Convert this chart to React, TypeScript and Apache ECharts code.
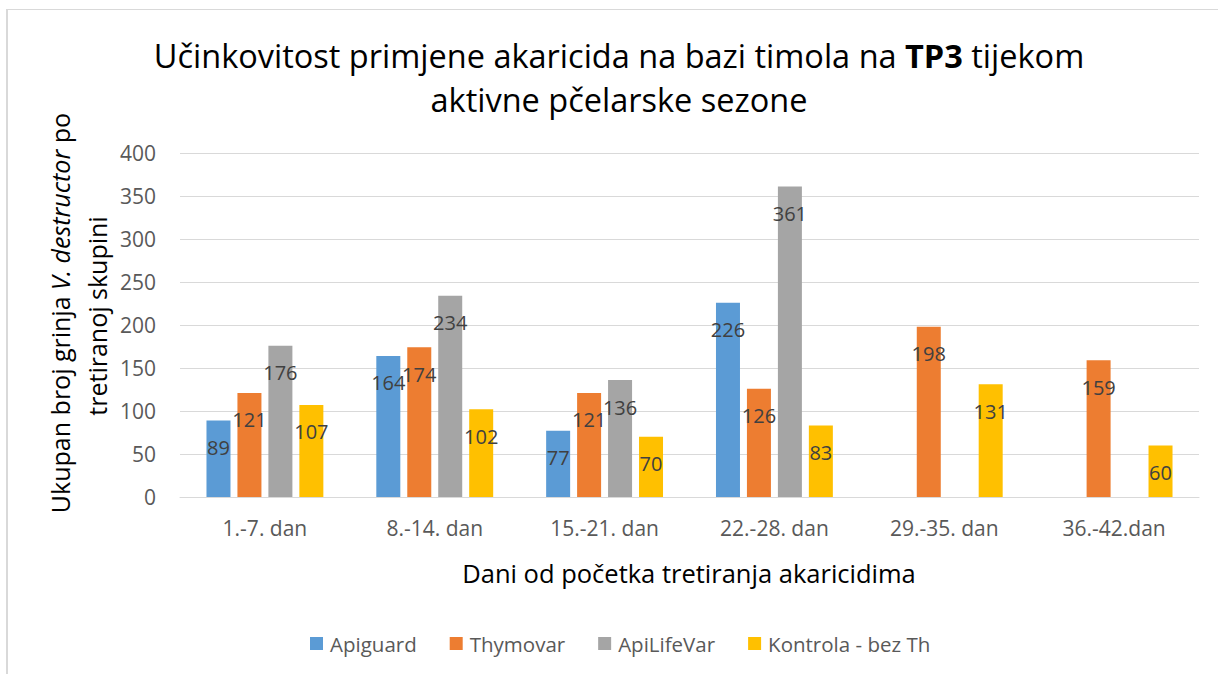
import React, { useEffect, useRef } from "react";
import * as echarts from "echarts";

const categories = ["1.-7. dan", "8.-14. dan", "15.-21. dan", "22.-28. dan", "29.-35. dan", "36.-42.dan"];
const apiguard = [89, 164, 77, 226, null, null];
const thymovar = [121, 174, 121, 126, 198, 159];
const apiLifeVar = [176, 234, 136, 361, null, null];
const kontrola = [107, 102, 70, 83, 131, 60];
const seriesNames = ["Apiguard", "Thymovar", "ApiLifeVar", "Kontrola - bez Th"];
const colors = ["#5B9BD5", "#ED7D31", "#A5A5A5", "#FFC000"];

const FONT = "'Open Sans', Lato, sans-serif";

export default function App() {
  const ref = useRef<HTMLDivElement>(null);
  useEffect(() => {
    if (!ref.current) return;
    const chart = echarts.init(ref.current, undefined, { renderer: "svg" });
    const data = [apiguard, thymovar, apiLifeVar, kontrola];
    chart.setOption({
      animation: false,
      textStyle: { fontFamily: FONT },
      color: colors,
      graphic: [
        { type: "line", shape: { x1: 7, y1: 9.5, x2: 1218, y2: 9.5 }, style: { stroke: "#d9d9d9", lineWidth: 1 } },
        { type: "line", shape: { x1: 7, y1: 9, x2: 7, y2: 674 }, style: { stroke: "#d9d9d9", lineWidth: 2 } },
        {
          type: "text",
          x: 619,
          y: 55,
          style: {
            text: "Učinkovitost primjene akaricida na bazi timola na {b|TP3} tijekom",
            font: `32.5px ${FONT}`,
            fill: "#000",
            align: "center",
            verticalAlign: "middle",
            rich: { b: { fontWeight: "bold", fontSize: 32.5, fontFamily: FONT, fill: "#000" } },
          },
        },
        {
          type: "text",
          x: 619,
          y: 99,
          style: {
            text: "aktivne pčelarske sezone",
            font: `32.5px ${FONT}`,
            fill: "#000",
            align: "center",
            verticalAlign: "middle",
          },
        },
        {
          type: "text",
          x: 60,
          y: 313,
          rotation: Math.PI / 2,
          style: {
            text: "Ukupan broj grinja {i|V. destructor} po",
            font: `25px ${FONT}`,
            fill: "#000",
            align: "center",
            verticalAlign: "middle",
            rich: { i: { fontStyle: "italic", fontSize: 25, fontFamily: FONT, fill: "#000" } },
          },
        },
        {
          type: "text",
          x: 97,
          y: 316,
          rotation: Math.PI / 2,
          style: {
            text: "tretiranoj skupini",
            font: `25px ${FONT}`,
            fill: "#000",
            align: "center",
            verticalAlign: "middle",
          },
        },
        {
          type: "text",
          x: 689,
          y: 573,
          style: {
            text: "Dani od početka tretiranja akaricidima",
            font: `25.5px ${FONT}`,
            fill: "#000",
            align: "center",
            verticalAlign: "middle",
          },
        },
      ],
      legend: {
        data: seriesNames,
        top: 628,
        left: 305,
        itemWidth: 13,
        itemHeight: 13,
        itemGap: 33,
        icon: "rect",
        textStyle: { fontSize: 20.5, color: "#595959", fontFamily: FONT, padding: [0, 0, 0, 2] },
      },
      grid: { left: 180, right: 19, top: 153, bottom: 177, containLabel: false },
      xAxis: {
        type: "category",
        data: categories,
        axisLine: { lineStyle: { color: "#d9d9d9", width: 1 } },
        axisTick: { show: false },
        axisLabel: { fontSize: 21, color: "#595959", margin: 20, fontFamily: FONT },
      },
      yAxis: {
        type: "value",
        min: 0,
        max: 400,
        interval: 50,
        axisLine: { show: false },
        axisTick: { show: false },
        splitLine: { lineStyle: { color: "#d9d9d9", width: 1 } },
        axisLabel: { fontSize: 21, color: "#595959", margin: 24, fontFamily: FONT },
      },
      series: data.map((d, i) => ({
        name: seriesNames[i],
        type: "bar",
        data: d,
        barWidth: 24,
        barGap: "29%",
        itemStyle: { color: colors[i] },
        label: {
          show: true,
          position: "insideTop",
          distance: 17,
          fontSize: 20,
          color: "#404040",
          fontFamily: FONT,
        },
      })),
    });
    return () => chart.dispose();
  }, []);
  return <div ref={ref} style={{ position: "fixed", left: 0, top: 0, width: 1218, height: 674, background: "#fff" }} />;
}
